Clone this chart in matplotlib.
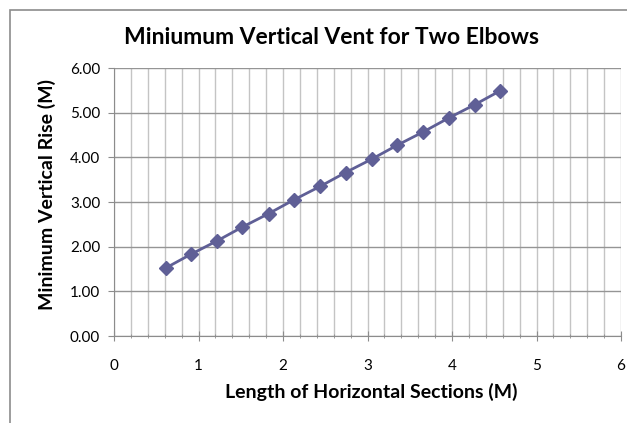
import numpy as np
import matplotlib.pyplot as plt
from matplotlib.ticker import MultipleLocator, FormatStrFormatter
from matplotlib.patches import Rectangle

# horizontal run (m) and minimum vertical rise (m), two elbows
horizontal_len = [0.61, 0.91, 1.22, 1.52, 1.83, 2.13, 2.44, 2.74, 3.05, 3.35, 3.66, 3.96, 4.27, 4.57]
vertical_rise = [1.52, 1.83, 2.13, 2.44, 2.74, 3.05, 3.35, 3.66, 3.96, 4.27, 4.57, 4.88, 5.18, 5.49]

plt.rcParams['font.family'] = ['Lato', 'DejaVu Sans']

W, H = 627, 423
fig = plt.figure(figsize=(W / 100, H / 100), dpi=100)
ax = fig.add_axes([114 / W, 1 - 336 / H, 507 / W, 268 / H])

# chart border (runs off the right and bottom edges)
fig.patches.append(Rectangle((10 / W, -10 / H), 640 / W, (H - 10 + 10) / H, transform=fig.transFigure,
                             fill=False, edgecolor='#8c8c8c', linewidth=1.2))

ax.plot(horizontal_len, vertical_rise, color='#5f5f96', linewidth=2, marker='D',
        markersize=7, markerfacecolor='#5f5f96', markeredgecolor='#5f5f96', zorder=3)

ax.set_xlim(0, 6)
ax.set_ylim(0, 6)
ax.xaxis.set_major_locator(MultipleLocator(1))
ax.xaxis.set_minor_locator(MultipleLocator(0.2))
ax.yaxis.set_major_locator(MultipleLocator(1))
ax.yaxis.set_major_formatter(FormatStrFormatter('%.2f'))

ax.grid(which='major', axis='y', color='#959595', linewidth=1.0)
ax.grid(which='both', axis='x', color='#c4c4c4', linewidth=1.0)
ax.set_axisbelow(True)

for side in ['top', 'right']:
    ax.spines[side].set_visible(False)
for side in ['left', 'bottom']:
    ax.spines[side].set_color('#8c8c8c')

ax.tick_params(axis='y', which='major', labelsize=11, colors='#8c8c8c', labelcolor='black',
               length=4, direction='out', pad=6)
ax.tick_params(axis='x', which='major', labelsize=11, colors='#8c8c8c', labelcolor='black',
               direction='inout', length=7, pad=13)
ax.tick_params(axis='x', which='minor', direction='inout', length=3, colors='#8c8c8c')

# title and axis labels placed in pixel positions
fig.text(332 / W, 1 - 37 / H, 'Miniumum Vertical Vent for Two Elbows', fontsize=16.5,
         fontweight='bold', ha='center', va='center')
fig.text(371 / W, 1 - 398 / H, 'Length of Horizontal Sections (M)', fontsize=14,
         fontweight='bold', ha='center', va='baseline')
fig.text(47 / W, 1 - 195 / H, 'Minimum Vertical Rise (M)', fontsize=14,
         fontweight='bold', ha='center', va='center', rotation=90)

fig.savefig('out.png', dpi=100)
